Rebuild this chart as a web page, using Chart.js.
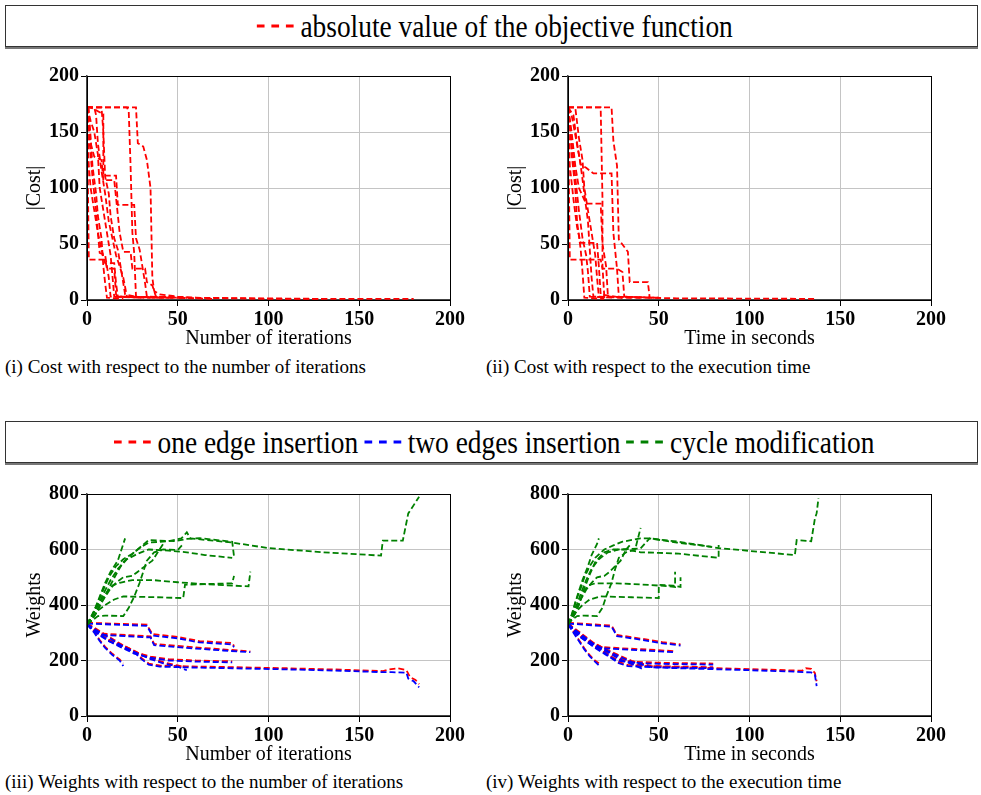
<!DOCTYPE html>
<html>
<head>
<meta charset="utf-8">
<script src="https://cdn.jsdelivr.net/npm/chart.js@4.4.1/dist/chart.umd.min.js"></script>
<style>
  body { margin: 0; width: 981px; height: 795px; background: #fff; position: relative; font-family: "Liberation Serif", serif; overflow: hidden; }
  .legend { position: absolute; left: 5px; width: 971px; height: 40px; border: 1px solid #333; box-shadow: 0 2px 0 #777; display: flex; align-items: center; justify-content: center; }
  .legend .inner { transform: scaleX(0.855); white-space: nowrap; font-size: 32px; display: flex; align-items: center; }
  .legend svg { margin: 0 6px 0 6px; }
  .panel { position: absolute; }
  .caption { position: absolute; font-size: 19px; white-space: nowrap; }
</style>
</head>
<body>

<div class="legend" style="top:5px">
  <div class="inner">
    <svg width="46" height="8"><line x1="1" y1="4" x2="45" y2="4" stroke="#ff0000" stroke-width="3" stroke-dasharray="9,8"/></svg>
    <span>absolute value of the objective function</span>
  </div>
</div>

<canvas class="panel" id="costIter" width="470" height="295" style="left:0px;top:60px"></canvas>
<canvas class="panel" id="costTime" width="470" height="295" style="left:481px;top:60px"></canvas>
<div class="caption" style="left:5px;top:356px">(i) Cost with respect to the number of iterations</div>
<div class="caption" style="left:486px;top:356px">(ii) Cost with respect to the execution time</div>

<div class="legend" style="top:421px">
  <div class="inner">
    <svg width="46" height="8"><line x1="1" y1="4" x2="45" y2="4" stroke="#ff0000" stroke-width="3" stroke-dasharray="9,8"/></svg>
    <span>one edge insertion</span>
    <svg width="46" height="8"><line x1="1" y1="4" x2="45" y2="4" stroke="#0000ff" stroke-width="3" stroke-dasharray="9,8"/></svg>
    <span>two edges insertion</span>
    <svg width="46" height="8"><line x1="1" y1="4" x2="45" y2="4" stroke="#008000" stroke-width="3" stroke-dasharray="9,8"/></svg>
    <span>cycle modification</span>
  </div>
</div>

<canvas class="panel" id="weightIter" width="470" height="293" style="left:0px;top:478px"></canvas>
<canvas class="panel" id="weightTime" width="470" height="293" style="left:481px;top:478px"></canvas>
<div class="caption" style="left:5px;top:771px">(iii) Weights with respect to the number of iterations</div>
<div class="caption" style="left:486px;top:771px">(iv) Weights with respect to the execution time</div>

<script>
// tick values
const xTicks = [0, 50, 100, 150, 200];
const costTicks = [0, 50, 100, 150, 200];
const weightTicks = [0, 200, 400, 600, 800];

// |cost| per run, against iterations  ([x, y] points)
const costIterRuns = [
  [[0,172],[27,172],[28,140],[31,137],[33,125],[35,100],[36,20],[37,8],[40,5],[50,3],[60,2],[100,1],[180,1]],
  [[0,172],[5,172],[22,172],[23,168],[24,120],[25,60],[26,42],[27,3],[40,2],[55,2]],
  [[0,172],[2,172],[9,166],[9,111],[16,111],[17,85],[26,85],[27,55],[29,45],[31,25],[32,15],[33,3],[60,2],[130,1]],
  [[0,172],[1,36],[10,36],[11,28],[15,28],[16,5],[17,3],[35,2]],
  [[0,172],[2,140],[4,128],[8,125],[9,107],[15,107],[18,60],[20,43],[24,43],[25,28],[32,28],[33,16],[36,13],[38,3],[55,2]],
  [[0,172],[1,150],[3,110],[5,80],[6,60],[7,42],[10,40],[11,30],[12,20],[13,3],[30,2]],
  [[0,172],[1,120],[2,100],[4,80],[6,60],[8,45],[10,33],[15,33],[16,15],[17,3],[40,2]],
  [[0,172],[2,160],[4,150],[6,130],[7,100],[9,80],[11,60],[13,40],[14,22],[15,3],[45,2]],
  [[0,172],[1,170],[3,120],[5,95],[6,75],[8,55],[9,30],[10,15],[11,2],[20,1]],
  [[0,172],[4,172],[5,165],[6,140],[8,115],[10,95],[12,70],[14,55],[16,40],[18,30],[20,20],[22,3],[50,2],[70,1]],
  [[0,172],[2,172],[8,172],[9,150],[10,110],[12,95],[13,75],[15,55],[17,45],[19,25],[21,5],[30,2]]
];

// |cost| per run, against seconds
const costTimeRuns = [
  [[0,172],[24,172],[25,142],[27,120],[28,54],[33,43],[34,16],[44,16],[45,2],[60,1.5],[137,1]],
  [[0,172],[3,172],[18,172],[19,90],[19,30],[20,3],[50,2]],
  [[0,172],[2,165],[7,121],[10,118],[14,113],[24,113],[25,60],[27,28],[30,25],[31,3],[50,2]],
  [[0,172],[1,36],[18,36],[19,28],[27,28],[28,3],[45,2]],
  [[0,172],[2,150],[4,120],[6,100],[10,86],[18,86],[19,50],[21,30],[22,3],[40,2]],
  [[0,172],[1,120],[3,90],[5,65],[7,51],[16,51],[17,30],[18,5],[30,2]],
  [[0,172],[2,140],[4,110],[6,80],[8,55],[10,40],[11,25],[12,3],[25,2]],
  [[0,172],[3,165],[5,140],[7,120],[9,95],[11,70],[12,45],[13,20],[14,3],[30,2]],
  [[0,172],[1,160],[2,130],[4,100],[5,70],[7,45],[8,25],[9,2],[20,1]],
  [[0,172],[4,172],[6,145],[8,125],[9,100],[11,80],[13,60],[15,40],[16,20],[17,3],[35,2]]
];

// weights against iterations
const greenIterRuns = [
  [[0,330],[3,365],[6,410],[9,455],[12,500],[16,540],[20,565],[25,585],[30,610],[34,625],[45,630],[52,640],[55,662],[57,640],[80,625],[100,605],[130,590],[162,578],[163,632],[174,632],[177,730],[183,790]],
  [[0,330],[4,380],[7,430],[10,480],[13,520],[17,560],[19,600],[21,640]],
  [[0,330],[5,385],[9,440],[13,490],[17,530],[22,565],[28,585],[34,600],[45,596],[55,590],[65,580],[80,570]],
  [[0,330],[5,370],[9,420],[12,460],[16,510],[20,555],[26,590],[34,634],[48,630],[55,638],[62,641],[80,628],[81,575]],
  [[0,330],[4,360],[7,400],[11,440],[14,470],[18,480],[25,490],[36,490],[50,482],[65,475],[89,467],[90,520]],
  [[0,330],[3,350],[6,380],[10,400],[15,420],[20,431],[38,428],[53,425],[54,473],[68,476],[80,478],[81,505]],
  [[0,330],[3,345],[6,360],[10,362],[20,360],[23,390],[26,430],[29,480],[31,520],[33,560],[37,590],[42,600],[50,598],[53,620]],
  [[0,330],[2,350],[5,390],[8,420],[12,455],[16,480],[20,500],[25,505],[28,520],[32,540],[36,560],[40,600],[42,620]]
];
const blueIterRuns = [
  [[0,330],[5,310],[10,290],[15,270],[20,250],[26,230],[30,205],[34,185],[40,178],[55,175],[80,172],[110,168],[140,163],[163,158],[168,158],[176,156],[177,135],[180,125],[183,103]],
  [[0,333],[33,325],[36,290],[50,280],[62,265],[80,258],[81,248]],
  [[0,330],[7,293],[35,283],[37,255],[60,243],[75,236],[90,230]],
  [[0,330],[6,300],[12,270],[18,250],[26,225],[35,210],[45,200],[60,196],[80,193]],
  [[0,330],[4,300],[7,270],[10,245],[14,220],[18,200],[20,180]],
  [[0,330],[3,310],[7,290],[12,270],[20,250],[28,225],[35,205],[42,190],[50,178],[55,165]]
];
const redIterRuns = [
  [[0,333],[5,314],[10,294],[15,274],[20,254],[26,234],[30,209],[34,189],[40,182],[55,179],[80,176],[110,172],[140,167],[163,162],[166,167],[171,172],[176,165],[178,140],[181,130],[183,115]],
  [[0,336],[33,329],[36,295],[50,285],[62,270],[80,263],[81,252]],
  [[0,333],[7,297],[35,287],[37,260],[60,247],[75,240],[90,233]],
  [[0,333],[6,304],[12,274],[18,254],[26,230],[35,214],[45,205],[60,200],[80,197]],
  [[0,333],[4,304],[7,274],[10,249],[14,224],[18,204],[20,190]],
  [[0,333],[3,314],[7,294],[12,274],[20,254],[28,229],[35,209],[42,194],[50,182],[55,175]]
];

// weights against seconds
const greenTimeRuns = [
  [[0,330],[2,365],[4,410],[7,460],[9,500],[12,540],[15,570],[20,600],[25,615],[30,628],[40,640],[45,640],[61,628],[83,605],[100,595],[125,580],[126,634],[134,630],[136,710],[137,731],[138,785]],
  [[0,330],[3,380],[5,430],[8,490],[11,540],[13,580],[16,620],[17,640]],
  [[0,330],[4,385],[7,440],[10,490],[13,530],[17,565],[22,590],[28,600],[40,604],[45,640],[60,625],[79,610]],
  [[0,330],[4,370],[7,420],[9,460],[12,510],[15,555],[20,590],[25,600],[32,600],[40,590],[50,588],[61,585],[83,570],[83,616]],
  [[0,330],[3,360],[6,400],[8,440],[11,470],[15,478],[27,478],[40,474],[55,468],[59,465],[59,520]],
  [[0,330],[2,350],[5,380],[8,400],[12,420],[18,431],[35,428],[50,425],[50,473],[58,470],[62,465],[62,500]],
  [[0,330],[2,345],[5,360],[9,362],[16,360],[19,390],[21,430],[24,480],[26,530],[28,570],[32,590],[37,600],[40,678]],
  [[0,330],[2,350],[4,390],[7,420],[10,455],[13,480],[16,500],[20,505],[23,520],[26,540],[29,560],[32,600],[34,615]]
];
const blueTimeRuns = [
  [[0,330],[4,310],[8,290],[12,270],[16,250],[20,230],[24,208],[28,190],[33,180],[45,176],[61,172],[90,167],[120,161],[130,158],[134,157],[136,150],[137,108]],
  [[0,333],[24,322],[27,288],[40,275],[52,262],[62,254]],
  [[0,330],[5,292],[15,246],[30,240],[45,235],[58,230]],
  [[0,330],[5,300],[10,270],[15,245],[21,220],[27,200],[35,192],[50,188],[80,185]],
  [[0,330],[3,300],[6,270],[9,240],[12,215],[15,195],[17,183]],
  [[0,330],[3,310],[6,290],[10,270],[17,250],[24,222],[30,200],[36,185],[41,170]],
  [[0,330],[6,295],[12,265],[20,240],[28,215],[35,195],[46,176],[80,172]]
];
const redTimeRuns = [
  [[0,333],[4,314],[8,294],[12,274],[16,254],[20,234],[24,212],[28,194],[33,184],[45,180],[61,176],[90,171],[120,165],[129,163],[131,172],[134,170],[136,155],[137,125]],
  [[0,336],[24,326],[27,292],[40,279],[52,266],[62,258]],
  [[0,333],[5,296],[15,250],[30,244],[45,239],[58,234]],
  [[0,333],[5,304],[10,274],[15,249],[21,224],[27,204],[35,196],[50,192],[80,189]],
  [[0,333],[3,304],[6,274],[9,244],[12,219],[15,199],[17,190]],
  [[0,333],[3,314],[6,294],[10,274],[17,254],[24,226],[30,204],[36,189],[41,180]],
  [[0,333],[6,299],[12,269],[20,244],[28,219],[35,199],[46,180],[80,176]]
];

const RED = '#ff0000', BLUE = '#0000ff', GREEN = '#008000';
const FONT = '"Liberation Serif", "Times New Roman", serif';

function lines(runs, color) {
  return runs.map(run => ({
    data: run.map(([x, y]) => ({ x, y })),
    borderColor: color,
    borderWidth: 1.8,
    borderDash: [6, 3],
    showLine: true,
    pointRadius: 0,
    fill: false
  }));
}

// black box around the plot area
const frame = {
  id: 'frame',
  afterDraw(chart) {
    const { ctx, chartArea: a } = chart;
    ctx.save();
    ctx.strokeStyle = '#000';
    ctx.lineWidth = 1;
    ctx.strokeRect(a.left + 0.5, a.top + 0.5, a.right - a.left, a.bottom - a.top);
    ctx.restore();
  }
};

function axis(ticks, max, title, isX) {
  return {
    type: 'linear',
    min: 0,
    max: max,
    afterBuildTicks: s => { s.ticks = ticks.map(v => ({ value: v })); },
    afterFit: s => { if (isX) s.height = 55; else s.width = 87; },
    ticks: { color: '#000', font: { family: FONT, size: 20, weight: 'bold' }, padding: 2 },
    grid: { color: '#c4c4c4', lineWidth: 1, tickColor: '#000', tickLength: 6 },
    border: { color: '#444', width: 1.5 },
    title: {
      display: true,
      text: title,
      color: '#000',
      font: { family: FONT, size: 20 },
      padding: isX ? { top: 0, bottom: 4 } : { top: 23, bottom: 0 }
    }
  };
}

function panel(id, datasets, yTicks, yMax, xTitle, yTitle) {
  new Chart(document.getElementById(id), {
    type: 'scatter',
    data: { datasets: datasets },
    options: {
      responsive: false,
      animation: false,
      layout: { padding: { top: 16, right: 20, left: 0, bottom: 0 } },
      plugins: { legend: { display: false }, tooltip: { enabled: false } },
      scales: {
        x: axis(xTicks, 200, xTitle, true),
        y: axis(yTicks, yMax, yTitle, false)
      }
    },
    plugins: [frame]
  });
}

panel('costIter', lines(costIterRuns, RED), costTicks, 200, 'Number of iterations', '|Cost|');
panel('costTime', lines(costTimeRuns, RED), costTicks, 200, 'Time in seconds', '|Cost|');
panel('weightIter',
  [...lines(greenIterRuns, GREEN), ...lines(blueIterRuns, BLUE), ...lines(redIterRuns, RED)],
  weightTicks, 800, 'Number of iterations', 'Weights');
panel('weightTime',
  [...lines(greenTimeRuns, GREEN), ...lines(blueTimeRuns, BLUE), ...lines(redTimeRuns, RED)],
  weightTicks, 800, 'Time in seconds', 'Weights');
</script>
</body>
</html>
